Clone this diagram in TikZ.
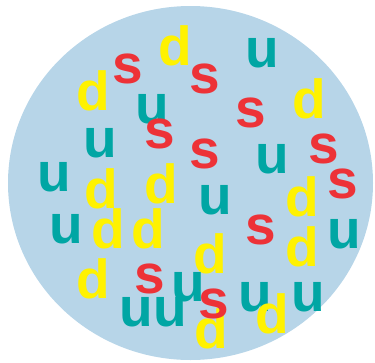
\documentclass[tikz,border=0pt]{standalone}
\usepackage{fontspec}
\setmainfont{Liberation Sans}
\definecolor{bgblue}{RGB}{183,213,232}
\definecolor{qteal}{RGB}{0,166,164}
\definecolor{qred}{RGB}{237,50,55}
\definecolor{qyellow}{RGB}{255,242,0}
\tikzset{
  q/.style={anchor=base, inner sep=0pt, font=\fontsize{55}{55}\selectfont\bfseries},
  qu/.style={q, text=qteal},
  qd/.style={q, text=qyellow},
  qs/.style={q, text=qred},
}
\begin{document}
\begin{tikzpicture}[x=1pt,y=-1pt]
\useasboundingbox (0,0) rectangle (375,362);
\fill[bgblue] (190.5,183) ellipse [x radius=182.5, y radius=177];
\node[qd] (d1) at (175,65) {d};
\node[qs] (s1) at (128,83) {s};
\node[qu] (u1) at (262,67) {u};
\node[qs] (s2) at (205,93) {s};
\node[qd] (d2) at (93,110) {d};
\node[qu] (u2) at (152,123) {u};
\node[qs] (s3) at (251,127) {s};
\node[qd] (d3) at (309,118) {d};
\node[qs] (s4) at (160,148) {s};
\node[qu] (u3) at (100,157) {u};
\node[qs] (s5) at (205,168) {s};
\node[qu] (u4) at (272,173) {u};
\node[qs] (s6) at (324,163) {s};
\node[qu] (u5) at (54,191) {u};
\node[qd] (d4) at (101,208) {d};
\node[qd] (d5) at (161,203) {d};
\node[qs] (s7) at (343,198) {s};
\node[qu] (u6) at (215,214) {u};
\node[qd] (d6) at (302,216) {d};
\node[qu] (u7) at (66,243) {u};
\node[qd] (d7) at (108,248) {d};
\node[qd] (d8) at (148,248) {d};
\node[qs] (s8) at (261,244) {s};
\node[qu] (u8) at (344,248) {u};
\node[qd] (d9) at (302,266) {d};
\node[qd] (d10) at (210,273) {d};
\node[qd] (d11) at (93,298) {d};
\node[qs] (s9) at (150,293) {s};
\node[qu] (u9) at (188,301) {u};
\node[qu] (u10) at (136,326) {u};
\node[qu] (u11) at (170,326) {u};
\node[qd] (d12) at (211,348) {d};
\node[qs] (s10) at (214,318) {s};
\node[qu] (u12) at (255,311) {u};
\node[qd] (d13) at (272,333) {d};
\node[qu] (u13) at (308,311) {u};
\end{tikzpicture}
\end{document}
